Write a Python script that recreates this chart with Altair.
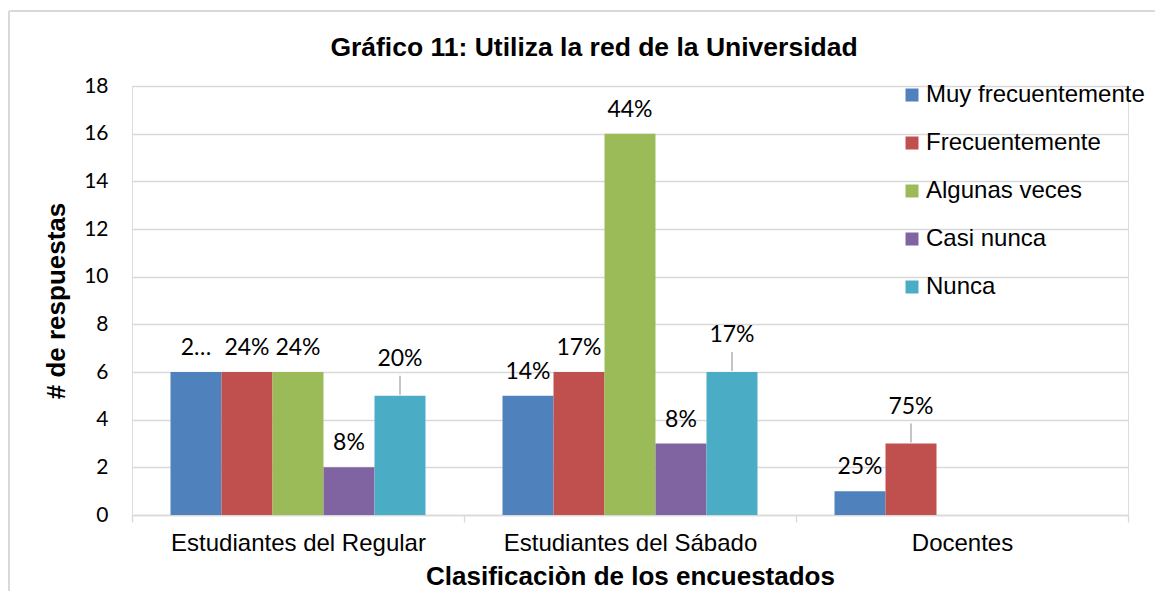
import altair as alt
import pandas as pd

# ---- data ----
categories = ["Estudiantes del Regular", "Estudiantes del Sábado", "Docentes"]
series = ["Muy frecuentemente", "Frecuentemente", "Algunas veces", "Casi nunca", "Nunca"]
colors = ["#4F81BD", "#C0504D", "#9BBB59", "#8064A2", "#4BACC6"]

regular = [6, 6, 6, 2, 5]
sabado = [5, 6, 16, 3, 6]
docentes = [1, 3, None, None, None]

regular_labels = ["2…", "24%", "24%", "8%", "20%"]
sabado_labels = ["14%", "17%", "44%", "8%", "17%"]
docentes_labels = ["25%", "75%", None, None, None]

# labels that Excel placed higher, joined to their bar by a leader line
regular_leader = [False, False, False, False, True]
sabado_leader = [False, False, False, False, True]
docentes_leader = [False, True, False, False, False]

y_ticks = [0, 2, 4, 6, 8, 10, 12, 14, 16, 18]

rows = []
for cat, vals, labs, leads in [
    (categories[0], regular, regular_labels, regular_leader),
    (categories[1], sabado, sabado_labels, sabado_leader),
    (categories[2], docentes, docentes_labels, docentes_leader),
]:
    for s, v, l, ld in zip(series, vals, labs, leads):
        rows.append({"categoria": cat, "serie": s, "valor": v, "etiqueta": l, "guia": ld})
df = pd.DataFrame(rows)

GRID = "#d9d9d9"
SANS = "Liberation Sans"
NUM = "Lato"

x_enc = alt.X(
    "categoria:N",
    sort=categories,
    scale=alt.Scale(paddingInner=0, paddingOuter=0),
    axis=alt.Axis(
        title="Clasificaciòn de los encuestados",
        labelAngle=0,
        labelFont=SANS,
        labelFontSize=24,
        labelColor="#000000",
        labelPadding=9,
        labelLimit=0,
        tickBand="extent",
        tickSize=7,
        tickColor=GRID,
        tickWidth=1.3,
        domainColor=GRID,
        domainWidth=1.3,
        titleFont=SANS,
        titleFontSize=26,
        titleFontWeight="bold",
        titleColor="#000000",
        titlePadding=8,
        grid=False,
    ),
)
xoff_enc = alt.XOffset(
    "serie:N", sort=series, scale=alt.Scale(paddingInner=0, paddingOuter=0.755)
)
y_enc = alt.Y(
    "valor:Q",
    scale=alt.Scale(domain=[0, 18], nice=False),
    axis=alt.Axis(
        title="# de respuestas",
        values=y_ticks,
        labelFont=NUM,
        labelFontSize=21,
        labelColor="#000000",
        labelPadding=24,
        ticks=False,
        domain=False,
        grid=True,
        gridColor=GRID,
        gridWidth=1.3,
        titleFont=SANS,
        titleFontSize=26,
        titleFontWeight="bold",
        titleColor="#000000",
        titlePadding=14,
    ),
)
color_enc = alt.Color(
    "serie:N",
    sort=series,
    scale=alt.Scale(domain=series, range=colors),
    legend=alt.Legend(
        title=None,
        orient="none",
        legendX=768,
        legendY=-3,
        direction="vertical",
        labelFont=SANS,
        labelFontSize=24,
        labelColor="#000000",
        labelOffset=2,
        labelLimit=0,
        symbolType="square",
        symbolSize=169,
        symbolStrokeWidth=0,
        rowPadding=24,
        padding=0,
    ),
)

base = alt.Chart(df)

bars = base.mark_bar().encode(x=x_enc, xOffset=xoff_enc, y=y_enc, color=color_enc)

labels_plain = (
    base.transform_filter("datum.etiqueta != null && !datum.guia")
    .mark_text(font=NUM, fontSize=23, color="#000000", dy=-24, baseline="middle")
    .encode(x=x_enc, xOffset=xoff_enc, y=y_enc, text="etiqueta:N")
)
labels_lead = (
    base.transform_filter("datum.etiqueta != null && datum.guia")
    .mark_text(font=NUM, fontSize=23, color="#000000", dy=-37, baseline="middle")
    .encode(x=x_enc, xOffset=xoff_enc, y=y_enc, text="etiqueta:N")
)
leaders = (
    base.transform_filter("datum.guia")
    .mark_rule(color="#a6a6a6", strokeWidth=1.3, yOffset=-1, y2Offset=-20)
    .encode(x=x_enc, xOffset=xoff_enc, y=y_enc, y2="valor:Q")
)

frame_df = pd.DataFrame({"k": [0]})
frame_top = alt.Chart(frame_df).mark_rule(color=GRID, strokeWidth=2).encode(
    x=alt.value(-123), x2=alt.value(1030), y=alt.value(-75)
)
frame_left = alt.Chart(frame_df).mark_rule(color=GRID, strokeWidth=2).encode(
    x=alt.value(-123), y=alt.value(-75), y2=alt.value(520)
)

chart = (
    alt.layer(frame_top, frame_left, bars, leaders, labels_plain, labels_lead)
    .properties(
        width=996,
        height=429,
        title=alt.TitleParams(
            "Gráfico 11: Utiliza la red de la Universidad",
            font=SANS,
            fontSize=26.5,
            fontWeight="bold",
            color="#000000",
            anchor="middle",
            dx=-36,
            dy=55,
        ),
        autosize=alt.AutoSizeParams(type="none"),
        padding={"left": 124, "top": 78, "right": 27, "bottom": 76},
    )
    .configure_view(stroke=None)
    .configure(background="#ffffff")
)

chart.save("out.html", embed_options={"renderer": "svg", "actions": False})
